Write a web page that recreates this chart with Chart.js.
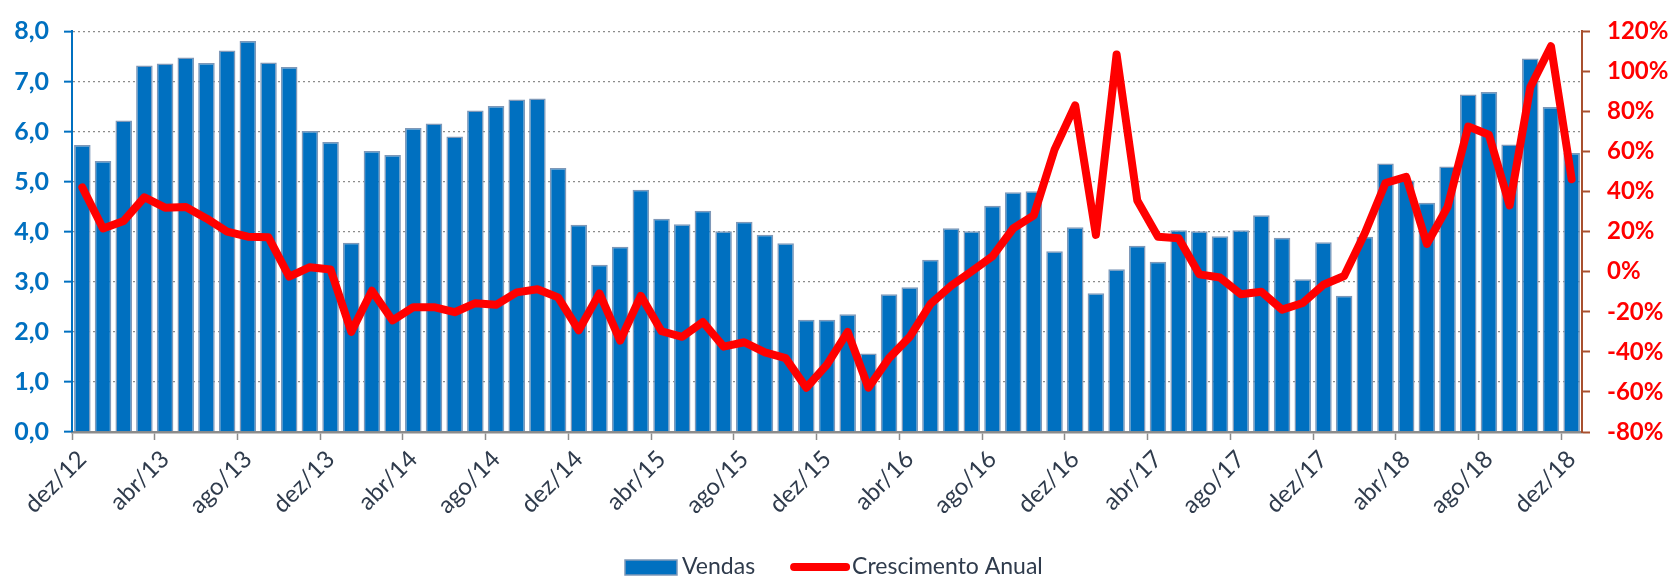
<!DOCTYPE html>
<html>
<head>
<meta charset="utf-8">
<script src="https://cdn.jsdelivr.net/npm/chart.js@4"></script>
<style>
  body { margin: 0; background: #fff; }
  canvas { display: block; }
</style>
</head>
<body>
<canvas id="mychart" width="1669" height="577"></canvas>
<script>
// meses de dez/12 a dez/18
const meses = ['jan', 'fev', 'mar', 'abr', 'mai', 'jun', 'jul', 'ago', 'set', 'out', 'nov', 'dez'];
const labels = ['dez/12'];
for (let ano = 13; ano <= 18; ano++) {
    meses.forEach(m => labels.push(m + '/' + ano));
}

const vendas = [
    5.73, 5.41, 6.22, 7.32, 7.36, 7.48, 7.37, 7.62, 7.81, 7.38, 7.29, 6.01, 5.79,
    3.78, 5.61, 5.53, 6.07, 6.16, 5.90, 6.42, 6.51, 6.64, 6.66, 5.27,
    4.14, 3.34, 3.70, 4.84, 4.26, 4.15, 4.42, 4.01, 4.20, 3.94, 3.77, 2.24,
    2.24, 2.35, 1.57, 2.75, 2.89, 3.44, 4.07, 4.01, 4.52, 4.79, 4.81, 3.61,
    4.09, 2.77, 3.25, 3.72, 3.40, 4.03, 4.01, 3.91, 4.03, 4.33, 3.88, 3.05,
    3.79, 2.72, 3.90, 5.36, 5.02, 4.58, 5.30, 6.74, 6.79, 5.74, 7.46, 6.49, 5.57
];

// crescimento anual em %
const crescimento = [
    42.1, 21.6, 25.4, 37.2, 32.0, 32.3, 26.6, 20.0, 17.5, 17.2, -2.4, 2.3,
    1.1, -30.0, -9.5, -24.3, -17.7, -17.7, -20.2, -15.7, -16.5, -10.3, -8.7, -12.8,
    -29.2, -10.8, -34.4, -12.0, -29.7, -32.5, -25.1, -37.4, -35.2, -40.2, -43.1, -57.9,
    -46.4, -30.0, -57.9, -43.1, -32.5, -16.1, -7.0, 0.3, 7.7, 21.6, 28.2, 61.0,
    83.1, 18.4, 108.5, 35.6, 17.5, 16.7, -1.3, -2.9, -11.2, -10.0, -18.9, -15.6,
    -6.5, -2.1, 19.2, 44.3, 47.4, 13.9, 32.3, 72.5, 68.4, 33.1, 92.1, 112.6, 46.2
];

const azul = '#0070C0';
const vermelho = '#FF0000';
const textoCor = '#2f3b4c';

// legenda desenhada embaixo, no estilo do Excel
const bottomLegend = {
    id: 'bottomLegend',
    afterDraw(chart) {
        const ctx = chart.ctx;
        const ds = chart.data.datasets;
        ctx.save();
        ctx.font = '23px Lato';
        ctx.textBaseline = 'alphabetic';
        let x = 625;
        const base = 574;
        ctx.fillStyle = ds[0].backgroundColor;
        ctx.fillRect(x, 560, 52, 15);
        ctx.strokeStyle = ds[0].borderColor;
        ctx.lineWidth = 1.5;
        ctx.strokeRect(x, 560, 52, 15);
        x += 57;
        ctx.fillStyle = textoCor;
        ctx.fillText(ds[0].label, x, base);
        x += ctx.measureText(ds[0].label).width + 36;
        ctx.strokeStyle = ds[1].borderColor;
        ctx.lineWidth = 8;
        ctx.lineCap = 'round';
        ctx.beginPath();
        ctx.moveTo(x + 3, 567);
        ctx.lineTo(x + 55, 567);
        ctx.stroke();
        x += 61;
        ctx.fillText(ds[1].label, x, base);
        ctx.restore();
    }
};

const ctx = document.getElementById('mychart').getContext('2d');
let myChart = new Chart(ctx, {
    type: 'bar',
    data: {
        labels: labels,
        datasets: [
            {
                label: 'Vendas',
                data: vendas,
                yAxisID: 'y',
                backgroundColor: azul,
                borderColor: '#7e98b8',
                borderWidth: 1.5,
                categoryPercentage: 1,
                barPercentage: 0.8,
                order: 2
            },
            {
                type: 'line',
                label: 'Crescimento Anual',
                data: crescimento,
                yAxisID: 'y1',
                borderColor: vermelho,
                backgroundColor: vermelho,
                borderWidth: 8,
                pointRadius: 0,
                borderJoinStyle: 'round',
                borderCapStyle: 'round',
                fill: false,
                tension: 0,
                order: 1
            }
        ]
    },
    options: {
        responsive: false,
        animation: false,
        layout: { padding: { top: 25, left: 0, right: 0, bottom: 0 } },
        plugins: {
            legend: { display: false },
            tooltip: { enabled: false }
        },
        scales: {
            x: {
                offset: true,
                grid: {
                    offset: true,
                    drawOnChartArea: false,
                    tickLength: 8,
                    tickWidth: 1.5,
                    tickColor: c => c.index % 4 === 0 ? '#8c8c8c' : 'rgba(0,0,0,0)'
                },
                border: { color: '#8c8c8c', width: 2.5 },
                ticks: {
                    autoSkip: false,
                    minRotation: 45,
                    maxRotation: 45,
                    padding: 5,
                    color: textoCor,
                    font: { family: 'Lato', size: 24 },
                    callback: (v, i) => i % 4 === 0 ? labels[i] : ''
                },
                afterFit: s => { s.height = 145; }
            },
            y: {
                position: 'left',
                min: 0,
                max: 8,
                ticks: {
                    stepSize: 1,
                    padding: 15,
                    color: azul,
                    font: { family: 'Lato', size: 25, weight: 'bold' },
                    callback: v => v.toFixed(1).replace('.', ',')
                },
                grid: {
                    color: '#8c8c8c',
                    lineWidth: 1.3,
                    tickColor: azul,
                    tickWidth: 2,
                    tickLength: 8,
                    tickBorderDash: []
                },
                border: { color: azul, width: 2, dash: [2, 3] },
                afterFit: s => { s.width = 72; }
            },
            y1: {
                position: 'right',
                min: -80,
                max: 120,
                ticks: {
                    stepSize: 20,
                    padding: 17,
                    color: vermelho,
                    font: { family: 'Lato', size: 24, weight: 'bold' },
                    callback: v => v + '%'
                },
                grid: {
                    drawOnChartArea: false,
                    tickColor: '#a8502f',
                    tickWidth: 2,
                    tickLength: 8
                },
                border: { color: '#a8502f', width: 2 },
                afterFit: s => { s.width = 87; }
            }
        }
    },
    plugins: [bottomLegend]
});
</script>
</body>
</html>
